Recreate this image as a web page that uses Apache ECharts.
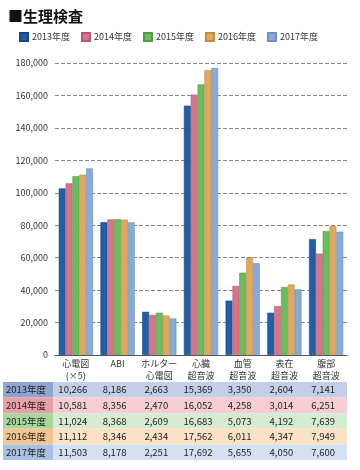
<!DOCTYPE html>
<html><head><meta charset="utf-8">
<script src="https://cdn.jsdelivr.net/npm/echarts@6/dist/echarts.min.js"></script>
<style>html,body{margin:0;padding:0;background:#fff}#c{width:360px;height:470px}</style>
</head><body><div id="c"></div>
<script>
const categories = ['心電図\n(×5)', 'ABI', 'ホルター\n心電図', '心臓\n超音波', '血管\n超音波', '表在\n超音波', '腹部\n超音波'];
const years = ['2013年度', '2014年度', '2015年度', '2016年度', '2017年度'];
const v2013 = [10266, 8186, 2663, 15369, 3350, 2604, 7141];
const v2014 = [10581, 8356, 2470, 16052, 4258, 3014, 6251];
const v2015 = [11024, 8368, 2609, 16683, 5073, 4192, 7639];
const v2016 = [11112, 8346, 2434, 17562, 6011, 4347, 7949];
const v2017 = [11503, 8178, 2251, 17692, 5655, 4050, 7600];
const values = [v2013, v2014, v2015, v2016, v2017];
const barScale = 10;

const barColors = ['#1f5ea8', '#d8748a', '#6abd5d', '#e0a75e', '#88aad8'];
const barBorders = ['#16477f', '#b85a6f', '#4f9c44', '#c48a42', '#6a8fc0'];
const labelBg = ['#8fa4cf', '#eaa0aa', '#a9d69c', '#f2c690', '#a9c2e3'];
const cellBg = ['#c5cee6', '#f6cdd3', '#d6ecd0', '#fbe2c7', '#d4e1f1'];

const chart = echarts.init(document.getElementById('c'));
const fmt = v => v.toLocaleString('en-US');
const font = '"Noto Sans CJK JP", "Noto Sans", sans-serif';

chart.setOption({
  animation: false,
  textStyle: { fontFamily: font },
  title: { text: '■生理検査', left: 3, top: 4, textStyle: { fontSize: 15, fontWeight: 'bold', color: '#111', fontFamily: font } },
  legend: {
    top: 27, left: 14, itemWidth: 8, itemHeight: 8, itemGap: 11,
    icon: 'rect',
    textStyle: { fontSize: 9, color: '#333', padding: [0, 0, 0, -1] },
    data: years
  },
  grid: { left: 55, right: 13, top: 63, bottom: 115 },
  xAxis: {
    type: 'category', data: categories,
    axisLine: { lineStyle: { color: '#555' } },
    axisTick: { show: false },
    axisLabel: { fontSize: 9, color: '#333', lineHeight: 12, margin: 3, interval: 0 }
  },
  yAxis: {
    type: 'value', min: 0, max: 180000, interval: 20000,
    axisLine: { show: false },
    axisTick: { show: false },
    axisLabel: { fontSize: 9, color: '#333', margin: 7, formatter: v => fmt(v) },
    splitLine: { lineStyle: { color: '#888', type: [4, 2], width: 1 } }
  },
  series: years.map((y, i) => ({
    name: y, type: 'bar',
    data: values[i].map(v => v * barScale),
    barGap: '0%', barCategoryGap: '18%',
    itemStyle: { color: barColors[i], borderColor: barBorders[i], borderWidth: 0.6 }
  }))
});

// table
const rowTop = 382, rowH = 15.6, tLeft = 3, labW = 50, tRight = 347;
const els = [];
years.forEach((y, i) => {
  const top = rowTop + i * rowH;
  els.push({ type: 'rect', shape: { x: tLeft, y: top, width: labW, height: rowH }, style: { fill: labelBg[i] }, z: 1 });
  els.push({ type: 'rect', shape: { x: tLeft + labW, y: top, width: tRight - tLeft - labW, height: rowH }, style: { fill: cellBg[i] }, z: 1 });
  els.push({ type: 'text', x: tLeft + 3, y: top + rowH / 2, style: { text: y, fontSize: 9.5, fill: '#222', fontFamily: font, verticalAlign: 'middle', align: 'left' }, z: 2 });
  values[i].forEach((v, j) => {
    const px = chart.convertToPixel({ xAxisIndex: 0 }, j);
    els.push({ type: 'text', x: px - 3, y: top + rowH / 2, style: { text: fmt(v), fontSize: 9.5, fill: '#222', fontFamily: font, verticalAlign: 'middle', align: 'center' }, z: 2 });
  });
});
chart.setOption({ graphic: els });
</script></body></html>
